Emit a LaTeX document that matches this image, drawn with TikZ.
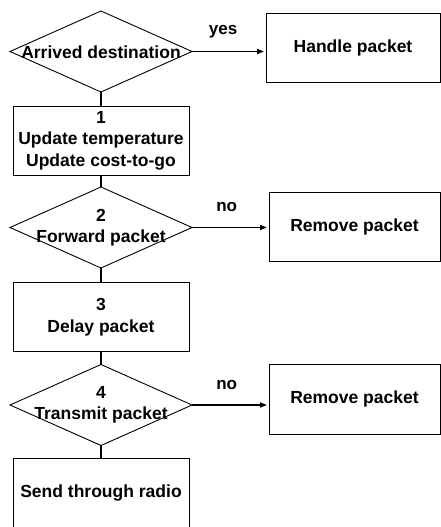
\documentclass[tikz,border=0pt]{standalone}
\usepackage{fontspec}
\setmainfont{Liberation Sans}
\usetikzlibrary{shapes.geometric,arrows.meta}
\tikzset{
  every node/.style={font=\fontsize{17.5}{21.5}\selectfont\bfseries},
  decision/.style={diamond, draw, line width=0.9pt, inner sep=0pt, outer sep=0pt,
    minimum width=182pt, minimum height=81pt},
  stepbox/.style={rectangle, draw, line width=0.9pt, inner sep=0pt, outer sep=0pt,
    minimum width=176pt, minimum height=69pt, align=center},
  sidebox/.style={rectangle, draw, line width=0.9pt, inner sep=0pt, outer sep=0pt,
    minimum width=171pt, minimum height=69pt, align=center},
  caption/.style={draw=none, align=center, inner sep=0pt},
  flow/.style={line width=1.6pt},
  branch/.style={line width=1.6pt, -{Triangle[length=7pt,width=5pt]}, shorten >=2pt},
  branchlabel/.style={draw=none, inner sep=0pt, font=\fontsize{17}{20}\selectfont\bfseries}
}
\begin{document}
\begin{tikzpicture}[x=1pt, y=-1pt]
  \useasboundingbox (0,0) rectangle (441,527);
  \clip (0,0) rectangle (441,527);

  % main column
  \node[decision] (d1) at (101,51.5) {};
  \node[caption] (t1) at (101,52.5) {Arrived destination};
  \node[stepbox] (b1) at (101,140.5) {1\\Update temperature\\Update cost-to-go};
  \node[decision] (d2) at (101,227.5) {};
  \node[caption] (t2) at (d2) {2\\Forward packet};
  \node[stepbox] (b3) at (101,317) {3\\Delay packet};
  \node[decision] (d3) at (101,405) {};
  \node[caption] (t3) at (d3) {4\\Transmit packet};
  \node[stepbox, minimum height=70pt] (b4) at (101,493) {Send through radio};

  % side outcomes
  \node[sidebox, minimum width=174pt] (h) at (353,47.5) {Handle packet};
  \node[sidebox] (r1) at (354.5,226.5) {Remove packet};
  \node[sidebox, minimum height=70pt] (r2) at (354.5,399) {Remove packet};

  % vertical flow
  \draw[flow] (d1.south) -- (b1.north);
  \draw[flow] (b1.south) -- (d2.north);
  \draw[flow] (d2.south) -- (b3.north);
  \draw[flow] (b3.south) -- (d3.north);
  \draw[flow] (d3.south) -- (b4.north);

  % branches
  \draw[branch] (d1.east) -- (d1.east -| h.west)
    node[branchlabel, pos=0.42, yshift=20pt] {yes};
  \draw[branch] (d2.east) -- (d2.east -| r1.west)
    node[branchlabel, pos=0.45, yshift=20pt] {no};
  \draw[branch] (d3.east) -- (d3.east -| r2.west)
    node[branchlabel, pos=0.45, yshift=20pt] {no};
\end{tikzpicture}
\end{document}
